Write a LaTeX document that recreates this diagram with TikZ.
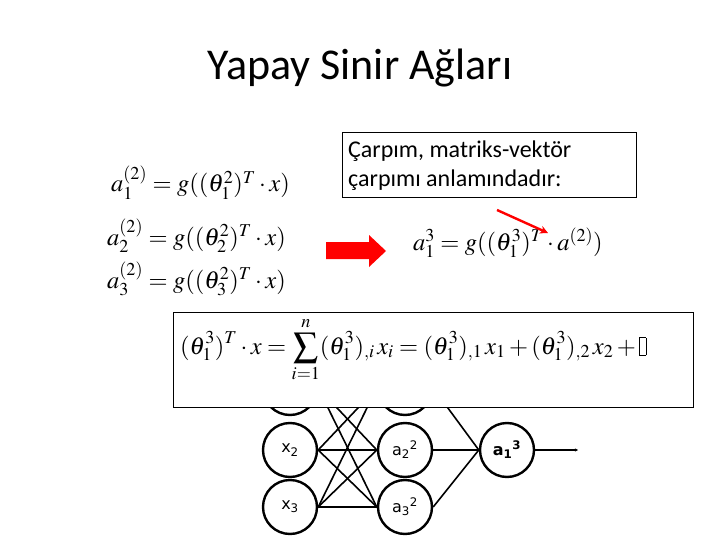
\documentclass[tikz,border=0pt]{standalone}
\usepackage{mathptmx}
\usepackage{fontspec}
\setmainfont{Carlito}
\newfontfamily\netfont{DejaVu Sans}
\usetikzlibrary{arrows.meta, positioning}
\definecolor{acred}{HTML}{FF0000}

\begin{document}
\begin{tikzpicture}[x=1pt, y=-1pt,
  neuron/.style={circle, draw, line width=2.4pt, minimum size=54pt, inner sep=0pt, font=\netfont\fontsize{16}{18}\selectfont},
  syn/.style={line width=1.6pt},
  eqn/.style={inner sep=0pt, font=\fontsize{24.5}{28}\selectfont},
  note/.style={rectangle, draw, line width=0.8pt, fill=white, inner sep=0pt},
  notetxt/.style={anchor=base west, inner sep=0pt, font=\fontsize{24}{28}\selectfont},
  arr/.style={-{Stealth[length=8pt, width=8pt]}, line width=2.4pt, #1},
]
  \useasboundingbox (0,0) rectangle (720,540);

  % Title
  \node[font=\fontsize{44}{48}\selectfont] (title) at (360,68) {Yapay Sinir Ağları};

  % Network: inputs
  \node[neuron] (x1) at (290,388) {x\textsubscript{1}};
  \node[neuron] (x2) at (290,450) {x\textsubscript{2}};
  \node[neuron] (x3) at (290,507) {x\textsubscript{3}};

  % Network: hidden layer
  \node[neuron] (h1) at (405,388) {a\textsubscript{1}\textsuperscript{2}};
  \node[neuron] (h2) at (405,450) {a\textsubscript{2}\textsuperscript{2}};
  \node[neuron] (h3) at (405,507) {a\textsubscript{3}\textsuperscript{2}};

  % Network: output
  \node[neuron, font=\netfont\bfseries\fontsize{16}{18}\selectfont] (out) at (507,450) {a\textsubscript{1}\textsuperscript{3}};
  \coordinate (yout) at (578,450);

  % Connections
  \foreach \i in {1,2,3} {
    \foreach \j in {1,2,3} {
      \draw[syn] (x\i.east) -- (h\j.west);
    }
    \draw[syn] (h\i.east) -- (out.west);
  }
  \draw[syn, -{Stealth[length=3pt, width=3pt]}] (out.east) -- (yout);

  % Layer 2 equations
  \node[eqn, anchor=base west] (eq1) at (111,192) {$a_1^{(2)}=g((\theta_1^2)^T\cdot x)$};
  \node[eqn, anchor=base west] (eq2) at (107,245) {$a_2^{(2)}=g((\theta_2^2)^T\cdot x)$};
  \node[eqn, anchor=base west] (eq3) at (107,288) {$a_3^{(2)}=g((\theta_3^2)^T\cdot x)$};

  % Block arrow
  \fill[acred] (326,242) -- (369,242) -- (369,235) -- (386,251) -- (369,267)
    -- (369,259) -- (326,259) -- cycle;

  % Output equation
  \node[eqn, anchor=base west] (eqout) at (413,250) {$a_1^3=g((\theta_1^3)^T\cdot a^{(2)})$};

  % Note box
  \node[note, minimum width=294pt, minimum height=65pt] (note) at (489,164.5) {};
  \node[notetxt] (noteA) at (348,158) {Çarpım, matriks-vektör};
  \node[notetxt] (noteB) at (348,187) {çarpımı anlamındadır:};

  % Pointer
  \coordinate (ptrs) at (497,210);
  \coordinate (ptre) at (548,233);
  \draw[arr=acred] (ptrs) -- (ptre);

  % Sum box
  \node[note, minimum width=520pt, minimum height=95pt] (sumbox) at (433,359.5) {};
  \node[eqn, anchor=base west] (sumeq) at (180,354)
    {$\displaystyle(\theta_1^3)^T\cdot x=\sum_{i=1}^{n}(\theta_1^3)_{,i}\,x_i=(\theta_1^3)_{,1}\,x_1+(\theta_1^3)_{,2}\,x_2+{\fboxsep=0pt\fboxrule=0.6pt\fbox{\rule{6pt}{0pt}\rule[-1pt]{0pt}{17pt}}}$};
\end{tikzpicture}
\end{document}
